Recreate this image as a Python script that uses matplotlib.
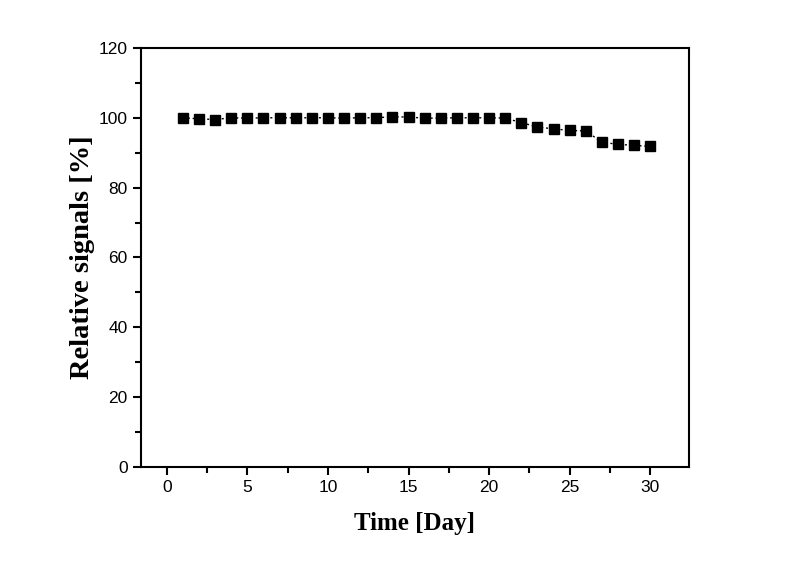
import matplotlib
matplotlib.use("Agg")
import matplotlib.pyplot as plt
from matplotlib.ticker import MultipleLocator

days = list(range(1, 31))
signal = [100.0, 99.7, 99.5, 100.0, 99.9, 100.0, 100.0, 100.0, 100.0, 100.0,
          99.9, 100.0, 100.0, 100.3, 100.2, 99.9, 99.9, 100.0, 100.0, 100.0,
          99.9, 98.6, 97.4, 96.8, 96.4, 96.2, 93.0, 92.4, 92.1, 91.8]

fig = plt.figure(figsize=(8.03, 5.64), dpi=100)
ax = fig.add_axes([0.1756, 0.172, 0.6824, 0.743])

ax.plot(days, signal, color="black", linestyle=(0, (1.5, 2)), linewidth=1,
        marker="s", markersize=7, markerfacecolor="black", markeredgecolor="black")

ax.set_xlim(-1.6, 32.4)
ax.set_ylim(0, 120)
ax.xaxis.set_major_locator(MultipleLocator(5))
ax.xaxis.set_minor_locator(MultipleLocator(2.5))
ax.yaxis.set_major_locator(MultipleLocator(20))
ax.yaxis.set_minor_locator(MultipleLocator(10))

for s in ax.spines.values():
    s.set_linewidth(1.5)
ax.tick_params(which="both", direction="out", top=False, right=False, width=1.5)
ax.tick_params(which="major", length=6, labelsize=12.5)
ax.tick_params(which="minor", length=4)
for lab in ax.get_xticklabels() + ax.get_yticklabels():
    lab.set_fontfamily("Liberation Sans")

ax.set_xlabel("Time [Day]", fontsize=18, fontweight="bold",
              fontfamily="Liberation Serif", labelpad=12)
ax.set_ylabel("Relative signals [%]", fontsize=20.5, fontweight="bold",
              fontfamily="Liberation Serif", labelpad=3)

fig.savefig("out.png", dpi=100)
